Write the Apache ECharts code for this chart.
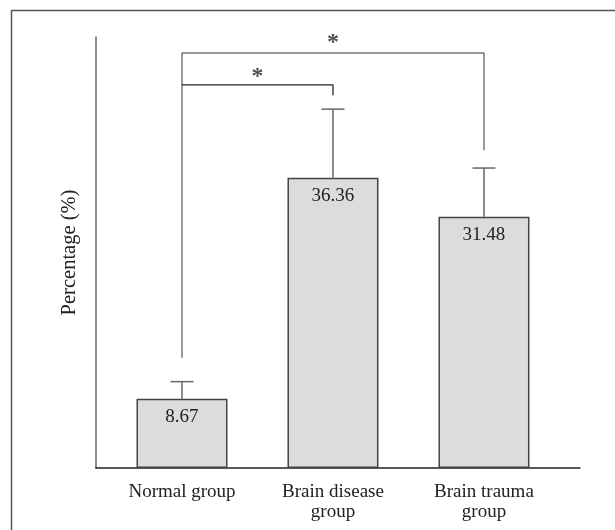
<!DOCTYPE html>
<html>
<head>
<meta charset="utf-8">
<script src="https://cdn.jsdelivr.net/npm/echarts@6/dist/echarts.min.js"></script>
<style>
html,body{margin:0;padding:0;background:#fff;}
#chart{width:615px;height:530px;}
</style>
</head>
<body>
<div id="chart"></div>
<script>
// Data
var categories = ['Normal group', 'Brain disease\ngroup', 'Brain trauma\ngroup'];
var values = [8.67, 36.36, 31.48];
var errors = [2.15, 8.6, 6.1];
// Significance brackets: [x, y] points in data units (x = category index)
var bracketOuter = [[0, 13.8], [0, 52.0], [2, 52.0], [2, 39.8]];
var bracketInner = [[0, 48.0], [1, 48.0], [1, 46.7]];
var stars = [[1, 53.3], [0.5, 49.0]];

var FONT = '"Liberation Serif", "DejaVu Serif", serif';
var chart = echarts.init(document.getElementById('chart'));

chart.setOption({
  animation: false,
  backgroundColor: '#fff',
  graphic: [{
    type: 'rect',
    shape: { x: 11.5, y: 10.5, width: 800, height: 800 },
    style: { fill: 'none', stroke: '#555', lineWidth: 1.5 },
    silent: true
  }],
  grid: { left: 96, top: 37, width: 484, height: 431 },
  xAxis: {
    type: 'value',
    min: -0.5695,
    max: 2.636,
    splitLine: { show: false },
    axisTick: { show: false },
    axisLine: { show: true, onZero: false, lineStyle: { color: '#222', width: 1.5 } },
    axisLabel: {
      customValues: [0, 1, 2],
      formatter: function (v) { return categories[Math.round(v)]; },
      fontFamily: FONT, fontSize: 19, color: '#222', lineHeight: 20, margin: 14
    }
  },
  yAxis: {
    type: 'value',
    min: 0,
    max: 54,
    splitLine: { show: false },
    axisTick: { show: false },
    axisLabel: { show: false },
    axisLine: { show: true, onZero: false, lineStyle: { color: '#666', width: 1.5 } },
    name: 'Percentage (%)',
    nameLocation: 'middle',
    nameGap: 16,
    nameTextStyle: { fontFamily: FONT, fontSize: 20.5, color: '#222' }
  },
  series: [
    {
      type: 'bar',
      barWidth: 91,
      data: values.map(function (v, i) { return [i, v]; }),
      itemStyle: { color: '#dcdcde', borderColor: '#444', borderWidth: 1.5 },
      label: {
        show: true, position: 'insideTop', distance: 8.5,
        formatter: function (p) { return values[p.dataIndex].toFixed(2); },
        fontFamily: FONT, fontSize: 19, color: '#222'
      },
      z: 2
    },
    {
      type: 'custom',
      data: values.map(function (v, i) { return [i, v, errors[i]]; }),
      renderItem: function (params, api) {
        var x = api.value(0), v = api.value(1), e = api.value(2);
        var p0 = api.coord([x, v]);
        var p1 = api.coord([x, v + e]);
        var style = { stroke: '#666', lineWidth: 1.5 };
        return {
          type: 'group',
          children: [
            { type: 'line', shape: { x1: p0[0], y1: p0[1], x2: p1[0], y2: p1[1] }, style: style },
            { type: 'line', shape: { x1: p1[0] - 11.5, y1: p1[1], x2: p1[0] + 11.5, y2: p1[1] }, style: style }
          ]
        };
      },
      z: 3
    },
    {
      type: 'line',
      data: bracketOuter,
      symbol: 'none',
      lineStyle: { color: '#777', width: 1.5 },
      z: 4
    },
    {
      type: 'line',
      data: bracketInner,
      symbol: 'none',
      lineStyle: { color: '#222', width: 1.3 },
      z: 5
    },
    {
      type: 'scatter',
      data: stars,
      symbolSize: 0,
      label: {
        show: true, position: 'inside', formatter: '*',
        fontFamily: FONT, fontSize: 24, fontWeight: 'bold', color: '#222'
      },
      z: 6
    }
  ]
});
</script>
</body>
</html>
